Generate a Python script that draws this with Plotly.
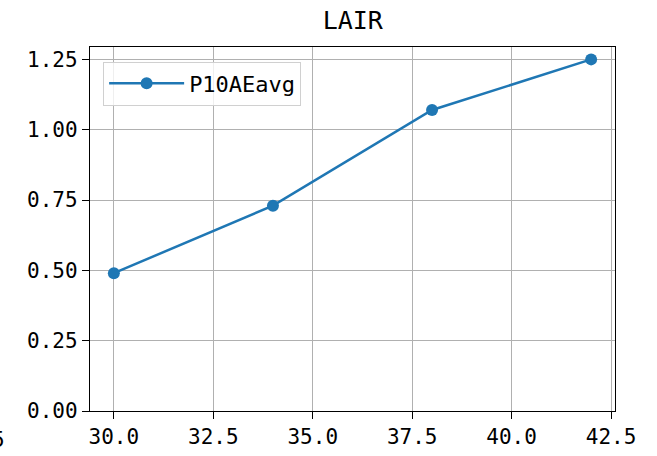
import plotly.graph_objects as go

# data
x_vals = [30, 34, 38, 42]
y_vals = [0.49, 0.73, 1.07, 1.25]
series_name = "P10AEavg"
x_ticks = [30.0, 32.5, 35.0, 37.5, 40.0, 42.5]
x_tick_labels = ["30.0", "32.5", "35.0", "37.5", "40.0", "42.5"]
y_ticks = [0.0, 0.25, 0.5, 0.75, 1.0, 1.25]
y_tick_labels = ["0.00", "0.25", "0.50", "0.75", "1.00", "1.25"]

tick_font = dict(family="DejaVu Sans Mono", size=21, color="black")

fig = go.Figure(go.Scatter(
    x=x_vals, y=y_vals, name=series_name,
    mode="lines+markers",
    line=dict(color="#1f77b4", width=2.5),
    marker=dict(color="#1f77b4", size=12),
    showlegend=True,
))

axis_common = dict(
    showline=True, linecolor="black", linewidth=1.3, mirror=True,
    ticks="outside", ticklen=7, tickwidth=1.3, tickcolor="black",
    showgrid=True, gridcolor="#b0b0b0", gridwidth=1,
    zeroline=False, tickfont=tick_font, automargin=False,
)

fig.update_xaxes(range=[29.4, 42.6], tickvals=x_ticks, ticktext=x_tick_labels, **axis_common)
fig.update_yaxes(range=[0, 1.294], tickvals=y_ticks, ticktext=y_tick_labels, **axis_common)

fig.update_layout(
    width=657, height=456,
    margin=dict(l=90, r=42, t=47, b=45, autoexpand=False),
    paper_bgcolor="white", plot_bgcolor="white",
    title=dict(text="LAIR", x=0.537, xanchor="center", y=0.955, yanchor="middle",
               font=dict(family="DejaVu Sans Mono", size=25, color="black")),
    legend=dict(x=0.025, y=0.96, xanchor="left", yanchor="top", itemwidth=75,
                bgcolor="rgba(255,255,255,0.8)", bordercolor="#d0d0d0", borderwidth=1,
                font=dict(family="DejaVu Sans Mono", size=22, color="black")),
    # stray clipped tick label at the far left, as in the reference
    annotations=[dict(text="27.5", xref="paper", yref="paper", x=-0.158, y=-0.08,
                      xanchor="right", yanchor="middle", showarrow=False, font=tick_font)],
)

# drop the default page margin so the figure sits at the window's corner
fig.write_html("out.html", config={"displayModeBar": False},
               post_script="document.body.style.margin='0px';")
